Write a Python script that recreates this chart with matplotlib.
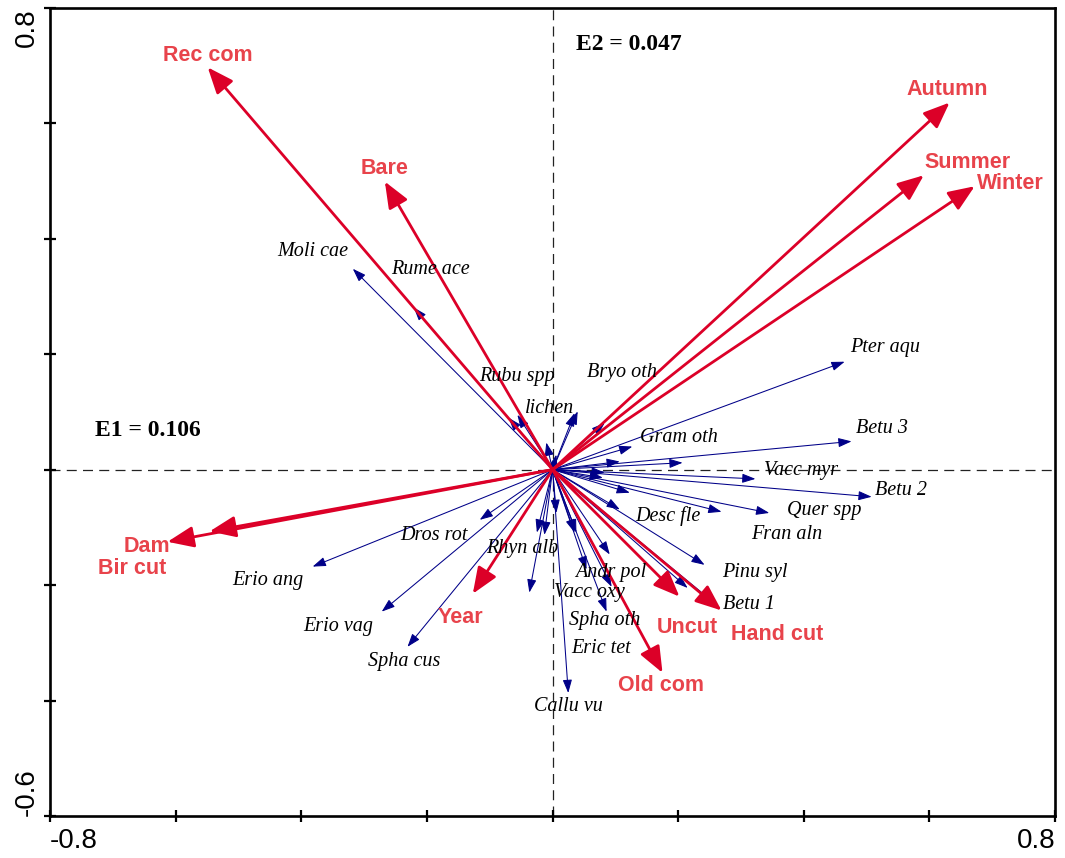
import numpy as np
import matplotlib.pyplot as plt
from matplotlib.patches import FancyArrowPatch

# environmental variables (biplot scores, axis 1 / axis 2)
env_names = ["Rec com", "Bare", "Autumn", "Summer", "Winter", "Dam", "Bir cut",
             "Year", "Uncut", "Hand cut", "Old com"]
env_x = [-0.549, -0.267, 0.632, 0.591, 0.672, -0.613, -0.546, -0.127, 0.202, 0.269, 0.175]
env_y = [0.697, 0.499, 0.636, 0.510, 0.491, -0.125, -0.107, -0.215, -0.220, -0.244, -0.352]

# species scores
sp_names = ["Moli cae", "Rume ace", "Rubu spp", "lichen", "", "", "Bryo oth", "", "",
            "Gram oth", "", "", "Pter aqu", "Betu 3", "Vacc myr", "Betu 2", "", "",
            "", "", "Desc fle", "Quer spp", "Pinu syl", "Fran aln", "Betu 1", "",
            "Andr pol", "Vacc oxy", "Spha oth", "", "Callu vu", "Eric tet", "Rhyn alb",
            "", "", "", "Dros rot", "Erio ang", "Erio vag", "Spha cus"]
sp_x = [-0.318, -0.221, -0.070, -0.056, -0.010, 0.006, 0.040, 0.035, 0.083,
        0.127, 0.107, 0.207, 0.465, 0.476, 0.323, 0.508, 0.083, 0.080,
        0.123, 0.107, 0.269, 0.345, 0.242, 0.215, 0.262, 0.091,
        0.094, 0.054, 0.086, 0.038, 0.025, 0.035, -0.037,
        -0.025, -0.013, 0.006, -0.116, -0.382, -0.272, -0.231]
sp_y = [0.348, 0.281, 0.090, 0.095, 0.047, 0.026, 0.101, 0.098, 0.081,
        0.040, 0.014, 0.012, 0.187, 0.049, -0.016, -0.047, -0.005, -0.014,
        -0.040, -0.069, -0.073, -0.075, -0.165, -0.205, -0.235, -0.147,
        -0.203, -0.173, -0.246, -0.109, -0.387, -0.109, -0.213,
        -0.109, -0.113, -0.075, -0.087, -0.168, -0.246, -0.307]

eig_text = ["E1 = 0.106", "E2 = 0.047"]

# label placement (data coords)
env_lab = {"Rec com": (-0.549, 0.718), "Bare": (-0.267, 0.522), "Autumn": (0.629, 0.659),
           "Summer": (0.661, 0.532), "Winter": (0.728, 0.496), "Dam": (-0.645, -0.133),
           "Bir cut": (-0.670, -0.172), "Year": (-0.146, -0.257), "Uncut": (0.215, -0.274),
           "Hand cut": (0.358, -0.286), "Old com": (0.172, -0.374)}
sp_lab = {"Moli cae": (-0.382, 0.378), "Rume ace": (-0.194, 0.347), "Rubu spp": (-0.057, 0.161),
          "lichen": (-0.005, 0.106), "Bryo oth": (0.111, 0.168), "Gram oth": (0.201, 0.055),
          "Pter aqu": (0.529, 0.212), "Betu 3": (0.524, 0.071), "Vacc myr": (0.395, -0.002),
          "Betu 2": (0.554, -0.036), "Quer spp": (0.433, -0.071), "Fran aln": (0.373, -0.113),
          "Desc fle": (0.183, -0.080), "Pinu syl": (0.322, -0.179), "Betu 1": (0.312, -0.234),
          "Andr pol": (0.092, -0.179), "Vacc oxy": (0.059, -0.213), "Spha oth": (0.083, -0.262),
          "Eric tet": (0.078, -0.310), "Callu vu": (0.025, -0.411), "Rhyn alb": (-0.048, -0.137),
          "Dros rot": (-0.189, -0.114), "Erio ang": (-0.454, -0.192), "Erio vag": (-0.342, -0.272),
          "Spha cus": (-0.236, -0.333)}

RED = "#dc0028"
RED_TXT = "#e8434b"
BLUE = "#000088"

fig = plt.figure(figsize=(10.65, 8.58), dpi=100)
ax = fig.add_axes([0.047, 0.049, 0.9437, 0.9418])
ax.set_xlim(-0.8, 0.8)
ax.set_ylim(-0.6, 0.8)

ax.axhline(0, color="#222222", lw=0.9, ls=(0, (8, 5)), zorder=1)
ax.axvline(0, color="#222222", lw=0.9, ls=(0, (8, 5)), zorder=1)

for x, y in zip(sp_x, sp_y):
    ax.add_patch(FancyArrowPatch((0, 0), (x, y), arrowstyle="-|>,head_length=8,head_width=2.8",
                                 mutation_scale=1, lw=0.75, color=BLUE,
                                 shrinkA=0, shrinkB=0, zorder=2))

for x, y in zip(env_x, env_y):
    ax.add_patch(FancyArrowPatch((0, 0), (x, y), arrowstyle="-|>,head_length=16,head_width=6.5",
                                 mutation_scale=1, lw=2.0, color=RED,
                                 shrinkA=0, shrinkB=0, zorder=3))

for name in sp_names:
    if name:
        lx, ly = sp_lab[name]
        ax.text(lx, ly, name, ha="center", va="center", fontsize=14.5,
                family="Liberation Serif", style="italic", zorder=4)

for name in env_names:
    lx, ly = env_lab[name]
    ax.text(lx, ly, name, ha="center", va="center", fontsize=15.5,
            family="Liberation Sans", weight="bold", color=RED_TXT, zorder=4)

ax.text(-0.729, 0.068, eig_text[0], ha="left", va="center", fontsize=17,
        family="Liberation Serif", weight="bold")
ax.text(0.038, 0.737, eig_text[1], ha="left", va="center", fontsize=17,
        family="Liberation Serif", weight="bold")

# axes frame and ticks
for side in ["left", "bottom", "top", "right"]:
    ax.spines[side].set_linewidth(1.9)
xt = np.arange(-0.8, 0.81, 0.2)
yt = np.arange(-0.6, 0.81, 0.2)
ax.set_xticks(xt)
ax.set_yticks(yt)
ax.set_xticklabels(["-0.8"] + [""] * (len(xt) - 2) + ["0.8"],
                   family="Liberation Sans", fontsize=20)
ax.set_yticklabels(["-0.6"] + [""] * (len(yt) - 2) + ["0.8"],
                   family="Liberation Sans", fontsize=20, rotation=90)
ax.tick_params(direction="inout", length=9, width=1.6, pad=4)
xl = ax.get_xticklabels()
xl[0].set_ha("left")
xl[-1].set_ha("right")
yl = ax.get_yticklabels()
yl[0].set_va("bottom")
yl[-1].set_va("top")
for t in yl:
    t.set_ha("center")
ax.tick_params(axis="y", pad=12)

fig.savefig("out.png", dpi=100)
